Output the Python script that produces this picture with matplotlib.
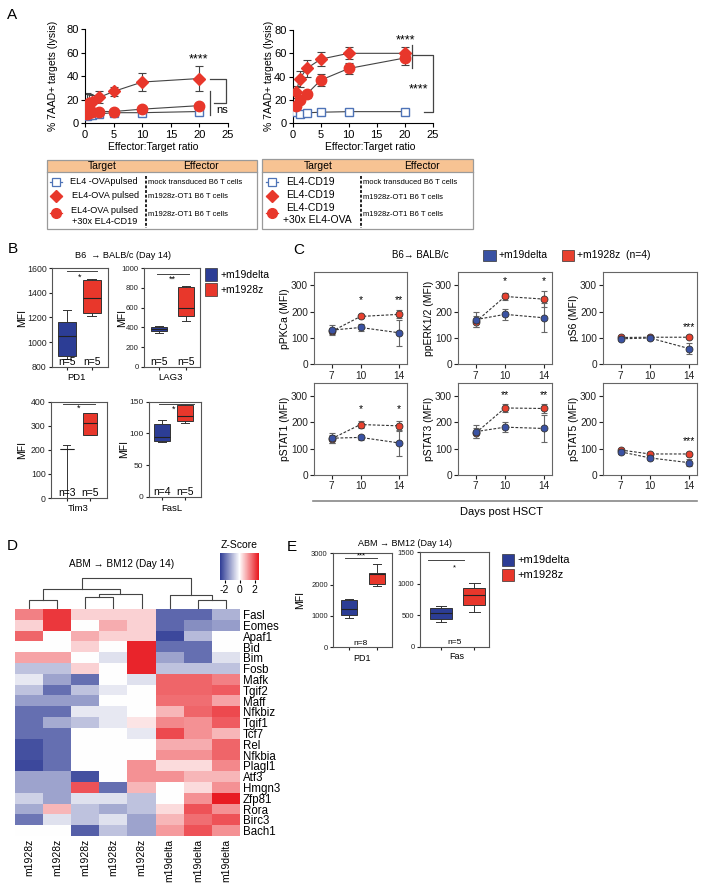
import numpy as np
import matplotlib
matplotlib.use('Agg')
import matplotlib.pyplot as plt
from matplotlib.patches import Rectangle
from matplotlib.colors import LinearSegmentedColormap

plt.rcParams['font.family'] = ['Liberation Sans', 'DejaVu Sans']
plt.rcParams['axes.linewidth'] = 0.8
plt.rcParams['xtick.major.width'] = 0.8
plt.rcParams['ytick.major.width'] = 0.8

W, H = 704, 888

# ---------------- DATA ----------------
# Panel A (left: OVA targets, right: CD19 targets)
a_left_x = [0.3125, 0.625, 1.25, 2.5, 5, 10, 20]
a_left_mock = [6, 7, 7, 8, 9, 9, 10]
a_left_mock_err = [2, 2, 2, 1.5, 1.5, 1.5, 1.5]
a_left_m1928z = [16, 17, 18, 22, 27, 35, 38]
a_left_m1928z_err = [10, 8, 6, 5, 4, 7.5, 11]
a_left_mixed = [8, 9, 10, 10, 10, 12, 15]
a_left_mixed_err = [2, 2, 2, 2, 1.5, 1.5, 2]

a_right_x = [0.625, 1.25, 2.5, 5, 10, 20]
a_right_mock = [10, 8, 9, 9.5, 10, 10]
a_right_mock_err = [1, 1, 1, 1, 1, 1]
a_right_m1928z = [27, 38, 47, 55, 60, 60]
a_right_m1928z_err = [5, 7, 7, 6, 5, 5]
a_right_mixed = [15, 20, 25, 37, 47, 56]
a_right_mixed_err = [2, 2, 3, 5, 5, 6]

a_xticks = [0, 5, 10, 15, 20, 25]
a_yticks = [0, 20, 40, 60, 80]

# Panel B box stats: (whislo, q1, med, q3, whishi)
b_markers = ['PD1', 'LAG3', 'Tim3', 'FasL']
b_m19delta = [[860, 890, 1050, 1165, 1260],
              [340, 360, 380, 405, 415],
              [0, 205, 205, 205, 220],
              [87, 88, 95, 115, 121]]
b_m1928z = [[1210, 1235, 1355, 1505, 1510],
            [460, 520, 600, 805, 820],
            [262, 262, 310, 355, 355],
            [117, 120, 127, 145, 146]]
b_n = [('n=5', 'n=5'), ('n=5', 'n=5'), ('n=3', 'n=5'), ('n=4', 'n=5')]
b_sig = ['*', '**', '*', '*']
b_ylims = [(800, 1600), (0, 1000), (0, 400), (0, 150)]
b_yticks = [[800, 1000, 1200, 1400, 1600], [0, 200, 400, 600, 800, 1000],
            [0, 100, 200, 300, 400], [0, 50, 100, 150]]

# Panel C
days = [7, 10, 14]
c_names = ['pPKCa (MFI)', 'ppERK1/2 (MFI)', 'pS6 (MFI)',
           'pSTAT1 (MFI)', 'pSTAT3 (MFI)', 'pSTAT5 (MFI)']
c_m1928z = [[125, 182, 190], [162, 258, 248], [102, 103, 103],
            [138, 192, 187], [160, 255, 253], [95, 80, 80]]
c_m1928z_sd = [[10, 5, 15], [20, 15, 30], [6, 6, 4],
               [15, 12, 20], [18, 15, 18], [5, 5, 5]]
c_m19delta = [[130, 140, 120], [170, 190, 177], [97, 100, 60],
              [140, 143, 122], [165, 182, 177], [88, 65, 47]]
c_m19delta_sd = [[20, 12, 50], [30, 20, 55], [6, 6, 20],
                 [20, 10, 50], [25, 20, 50], [8, 5, 12]]
c_stars = [[(10, 245, '*'), (14, 245, '**')],
           [(10, 318, '*'), (14, 318, '*')],
           [(14, 140, '***')],
           [(10, 250, '*'), (14, 250, '*')],
           [(10, 305, '**'), (14, 305, '**')],
           [(14, 130, '***')]]

# Panel D heatmap
genes = ['Fasl', 'Eomes', 'Apaf1', 'Bid', 'Bim', 'Fosb', 'Mafk', 'Tgif2', 'Maff',
         'Nfkbiz', 'Tgif1', 'Tcf7', 'Rel', 'Nfkbia', 'Plagl1', 'Atf3', 'Hmgn3',
         'Zfp81', 'Rora', 'Birc3', 'Bach1']
samples = ['m1928z'] * 5 + ['m19delta'] * 3
zscores = np.array([
    [1.4, 2.2, 0.5, 0.5, 0.5, -2.0, -2.0, -1.0],
    [0.5, 2.2, 0.0, 0.9, 0.5, -2.0, -1.5, -1.3],
    [1.7, 0.0, 0.9, 0.5, 0.5, -2.4, -0.9, 0.0],
    [0.0, 0.0, 0.5, 0.0, 2.4, -1.9, -1.9, 0.0],
    [1.0, 1.0, 0.0, -0.4, 2.4, -1.2, -1.9, -0.4],
    [-0.8, -0.8, 0.5, 0.0, 2.4, -0.8, -0.8, -0.8],
    [-0.3, -1.2, -1.9, 0.0, -0.4, 1.7, 1.7, 1.4],
    [-0.8, -1.9, -0.8, -0.3, 0.0, 1.7, 1.7, 1.8],
    [-1.3, -1.3, -1.3, 0.0, 0.0, 1.6, 1.6, 1.0],
    [-1.9, -1.9, -0.3, -0.3, 0.0, 0.8, 1.7, 2.0],
    [-1.9, -1.1, -0.8, -0.3, 0.3, 1.3, 1.2, 1.8],
    [-1.9, -1.9, 0.0, 0.0, -0.3, 2.0, 1.2, 0.8],
    [-2.3, -1.9, 0.0, 0.0, 0.0, 0.9, 0.9, 1.7],
    [-2.3, -1.9, 0.0, 0.0, 0.0, 1.2, 1.2, 1.7],
    [-2.4, -1.9, 0.0, 0.0, 1.2, 0.4, 0.4, 1.3],
    [-1.2, -1.2, -2.3, 0.0, 1.2, 1.2, 0.8, 0.8],
    [-1.2, -1.2, 1.9, -1.9, 0.8, 0.0, 0.4, 1.2],
    [-0.6, -1.2, -0.4, -0.4, -0.8, 0.0, 1.2, 2.5],
    [-1.1, 0.8, -0.8, -1.1, -0.8, 0.4, 1.9, 1.2],
    [-1.8, -0.4, -0.8, -0.4, -1.2, 0.8, 1.6, 1.9],
    [0.0, 0.0, -2.1, -0.8, -1.2, 1.1, 1.9, 1.2],
])
# dendrogram merges: (child_a, child_b, height); leaves 0..7, new nodes 8..
dendro_merges = [(0, 1, 9), (2, 3, 12), (9, 4, 15), (8, 10, 20),
                 (6, 7, 9), (5, 12, 14), (11, 13, 31)]

# Panel E box stats
e_markers = ['PD1', 'Fas']
e_m19delta = [[950, 1030, 1210, 1500, 1530], [393, 440, 535, 615, 647]]
e_m1928z = [[1950, 2020, 2330, 2360, 2660], [547, 663, 822, 928, 1008]]
e_n = ['n=8', 'n=5']
e_sig = ['***', '*']
e_ylims = [(0, 3000), (0, 1500)]
e_yticks = [[0, 1000, 2000, 3000], [0, 500, 1000, 1500]]

BLUE = '#2C3D95'
RED = '#E8372B'
CBLUE = '#3A52A3'
CRED = '#E8412F'

# ---------------- FIGURE ----------------
fig = plt.figure(figsize=(W / 100, H / 100), dpi=100)


def add_ax(x0, y0, x1, y1, **kw):
    return fig.add_axes([x0 / W, 1 - y1 / H, (x1 - x0) / W, (y1 - y0) / H], **kw)


ov = fig.add_axes([0, 0, 1, 1], zorder=20)
ov.set_xlim(0, W)
ov.set_ylim(H, 0)
ov.axis('off')
ov.patch.set_alpha(0)


def T(x, y, s, **kw):
    kw.setdefault('ha', 'center')
    kw.setdefault('va', 'center')
    ov.text(x, y, s, **kw)


# ---------- Panel A ----------
def panel_a(box, x, mock, mock_e, dia, dia_e, cir, cir_e):
    ax = add_ax(*box)
    for y, e in [(mock, mock_e), (cir, cir_e), (dia, dia_e)]:
        ax.plot(x, y, '-', color='#444', lw=0.8, zorder=2)
        ax.errorbar(x, y, yerr=e, fmt='none', ecolor='#444', elinewidth=0.8,
                    capsize=3, capthick=0.8, zorder=2)
    ax.plot(x, mock, 's', ms=6, mfc='white', mec='#4E73B7', mew=1.0, zorder=3)
    ax.plot(x, cir, 'o', ms=7.5, mfc=RED, mec=RED, zorder=4)
    ax.plot(x, dia, 'D', ms=6.5, mfc=RED, mec=RED, zorder=5)
    ax.set_xlim(0, 25)
    ax.set_ylim(0, 80)
    ax.set_xticks(a_xticks)
    ax.set_yticks(a_yticks)
    ax.spines['top'].set_visible(False)
    ax.spines['right'].set_visible(False)
    ax.tick_params(labelsize=8, length=3, pad=1.5)
    return ax


axAL = panel_a((85, 29, 228, 123.3), a_left_x, a_left_mock, a_left_mock_err,
               a_left_m1928z, a_left_m1928z_err, a_left_mixed, a_left_mixed_err)
axAR = panel_a((292.7, 30, 432.7, 123.3), a_right_x, a_right_mock, a_right_mock_err,
               a_right_m1928z, a_right_m1928z_err, a_right_mixed, a_right_mixed_err)

# brackets & significance A left
lk = dict(color='#444', lw=0.9, clip_on=False)
axAL.plot([21.8, 24.6, 24.6, 22.5], [38, 38, 17, 17], **lk)
axAL.plot([21.8, 21.8], [7, 27.8], **lk)
axAL.text(19.8, 54, '****', ha='center', va='center', fontsize=9)
axAL.text(23.9, 11.3, 'ns', ha='center', va='center', fontsize=8)
# A right
axAR.plot([21.25, 21.25], [47.3, 67.3], **lk)
axAR.plot([21.25, 25, 25, 23.45], [58.7, 58.7, 10, 10], **lk)
axAR.text(20.2, 70.8, '****', ha='center', va='center', fontsize=9)
axAR.text(22.4, 29, '****', ha='center', va='center', fontsize=9)

T(12.5, 15, 'A', fontsize=11)
T(53, 76, '% 7AAD+ targets (lysis)', rotation=90, fontsize=7.5)
T(268.5, 76, '% 7AAD+ targets (lysis)', rotation=90, fontsize=7.5)
T(152.7, 146.7, 'Effector:Target ratio', fontsize=7.5)
T(370, 146.7, 'Effector:Target ratio', fontsize=7.5)


# tables
def table(x0, x1, y0, y1, hdr_y1, tx, ex, dash_x, mk_x, rows, tsize):
    ov.add_patch(Rectangle((x0, y0), x1 - x0, hdr_y1 - y0, fc='#F7C393', ec='none'))
    ov.add_patch(Rectangle((x0, y0), x1 - x0, y1 - y0, fc='none', ec='#9A9A9A', lw=0.9))
    ov.plot([x0, x1], [hdr_y1, hdr_y1], color='#9A9A9A', lw=0.9)
    T(tx, (y0 + hdr_y1) / 2 + 0.5, 'Target', fontsize=7.5)
    T(ex, (y0 + hdr_y1) / 2 + 0.5, 'Effector', fontsize=7.5)
    ov.plot([dash_x, dash_x], [hdr_y1 + 4, y1 - 1], color='#111', lw=1.3,
            ls=(0, (1.6, 1.0)))
    for mk, my, lines, eff, ey in rows:
        ov.plot([mk_x - 6, mk_x + 6], [my, my], color=RED if mk != 's' else '#4E73B7', lw=0.9)
        if mk == 's':
            ov.plot([mk_x], [my], 's', ms=6, mfc='white', mec='#4E73B7', mew=0.9)
        elif mk == 'D':
            ov.plot([mk_x], [my], 'D', ms=6, mfc=RED, mec=RED)
        else:
            ov.plot([mk_x], [my], 'o', ms=7, mfc=RED, mec=RED)
        for (lx, ly, ltxt, ha) in lines:
            T(lx, ly, ltxt, fontsize=tsize, ha=ha)
        T(dash_x + 2, ey, eff, fontsize=5.5, ha='left')


table(46.7, 256.7, 160, 229, 171.7, 102.7, 200.7, 146, 56,
      [('s', 182, [(70, 182, 'EL4 -OVApulsed', 'left')], 'mock transduced B6 T cells', 182),
       ('D', 195.7, [(71.5, 195.7, 'EL4-OVA pulsed', 'left')], 'm1928z-OT1 B6 T cells', 196.3),
       ('o', 213, [(105, 210, 'EL4-OVA pulsed', 'center'),
                   (104.5, 221.3, '+30x EL4-CD19', 'center')], 'm1928z-OT1 B6 T cells', 214.3)],
      6.6)
table(262, 472.7, 159.3, 229, 171.7, 318, 421.7, 361, 271.7,
      [('s', 182, [(286, 181.7, 'EL4-CD19', 'left')], 'mock transduced B6 T cells', 182.7),
       ('D', 195.7, [(286, 195, 'EL4-CD19', 'left')], 'm1928z-OT1 B6 T cells', 197.3),
       ('o', 213, [(286, 208.3, 'EL4-CD19', 'left'),
                   (283, 220.3, '+30x EL4-OVA', 'left')], 'm1928z-OT1 B6 T cells', 214.3)],
      7.5)


# ---------- Panel B ----------
def mkstat(s):
    return dict(whislo=s[0], q1=s[1], med=s[2], q3=s[3], whishi=s[4])


def boxes(ax, sb, sr, width, xlim, ylim, yticks):
    bp = ax.bxp([mkstat(sb), mkstat(sr)], positions=[1, 2], widths=width,
                patch_artist=True, showfliers=False,
                boxprops=dict(lw=0.7, ec='#333'),
                medianprops=dict(color='#222', lw=0.8),
                whiskerprops=dict(color='#333', lw=0.7),
                capprops=dict(color='#333', lw=0.7))
    bp['boxes'][0].set_facecolor(BLUE)
    bp['boxes'][1].set_facecolor(RED)
    ax.set_xlim(*xlim)
    ax.set_ylim(*ylim)
    ax.set_yticks(yticks)
    ax.set_xticks([1, 2])
    ax.set_xticklabels([])
    for sp in ax.spines.values():
        sp.set_color('#555')
    return ax


b_boxes = [(51.7, 268.3, 108.3, 366.7), (144, 268.3, 200, 366.7),
           (50.7, 401.7, 106.7, 498), (148.5, 401.7, 200.7, 496.7)]
b_xlims = [(0.38, 2.67), (0.43, 2.52), (0.31, 2.72), (0.41, 2.67)]
b_widths = [0.72, 0.6, 0.62, 0.68]
b_tick_fs = [6.3, 5.6, 6.3, 6.0]
b_sig_pos = [((0.99, 2.2), 1575, 1.49, 1527), ((0.92, 2.12), 939, 1.5, 888),
             ((0.85, 2.2), 389, 1.52, 372), ((0.85, 2.4), 147, 1.5, 138)]
b_ylab_x = [21.7, 122.5, 21.7, 124]
b_xlab = [(76.7, 377), (170, 377), (78, 508), (172, 508)]
for i in range(4):
    ax = add_ax(*b_boxes[i])
    boxes(ax, b_m19delta[i], b_m1928z[i], b_widths[i], b_xlims[i], b_ylims[i], b_yticks[i])
    ax.tick_params(labelsize=b_tick_fs[i], length=2.5, pad=1.2, colors='#222')
    (sx0, sx1), sy, stx, sty = b_sig_pos[i]
    ax.plot([sx0, sx1], [sy, sy], color='#444', lw=0.7)
    ax.text(stx, sty, b_sig[i], ha='center', va='center', fontsize=6.5)
    lo, hi = b_ylims[i]
    for k, lab in enumerate(b_n[i]):
        ax.text(k + 1, lo + 0.05 * (hi - lo), lab, ha='center', va='center', fontsize=7.5)
    bx = b_boxes[i]
    T(b_ylab_x[i], (bx[1] + bx[3]) / 2, 'MFI', rotation=90, fontsize=7.5)
    T(b_xlab[i][0], b_xlab[i][1], b_markers[i], fontsize=6.8)

T(12.5, 249, 'B', fontsize=11)
T(123, 255, 'B6  \u2192 BALB/c (Day 14)', fontsize=6.6)
ov.add_patch(Rectangle((205, 268), 12, 13, fc=BLUE, ec='#333', lw=0.5))
ov.add_patch(Rectangle((205, 283), 12, 13, fc=RED, ec='#333', lw=0.5))
T(220.5, 274.5, '+m19delta', fontsize=7.5, ha='left')
T(220.5, 289.5, '+m1928z', fontsize=7.5, ha='left')

# ---------- Panel C ----------
c_cols = [(314.3, 406.7), (458.3, 551.7), (603.3, 696.7)]
c_rows = [(272.3, 364.3), (383, 475)]
for i in range(6):
    (x0, x1) = c_cols[i % 3]
    (y0, y1) = c_rows[i // 3]
    ax = add_ax(x0, y0, x1, y1)
    for vals, sd, col, z in [(c_m1928z[i], c_m1928z_sd[i], CRED, 3),
                             (c_m19delta[i], c_m19delta_sd[i], CBLUE, 4)]:
        ax.errorbar(days, vals, yerr=sd, fmt='none', ecolor='#666', elinewidth=0.8,
                    capsize=2.5, capthick=0.8, zorder=z)
        ax.plot(days, vals, ls=(0, (2.5, 1.5)), color='#333', lw=0.8, zorder=z)
        ax.plot(days, vals, 'o', ms=5, mfc=col, mec='#333', mew=0.6, zorder=z + 0.5)
    for (d, yv, s) in c_stars[i]:
        ax.text(d, yv, s, ha='center', va='center', fontsize=7.5)
    ax.set_xlim(5.2, 14.8)
    ax.set_ylim(0, 350)
    ax.set_xticks(days)
    ax.set_yticks([0, 100, 200, 300])
    ax.tick_params(labelsize=7.3, length=3, pad=1.5, colors='#222')
    for sp in ax.spines.values():
        sp.set_color('#666')
    ax.set_ylabel(c_names[i], fontsize=7.5, labelpad=1)

T(299, 250, 'C', fontsize=11)
T(420, 255, 'B6\u2192 BALB/c', fontsize=7)
ov.add_patch(Rectangle((483.3, 249.5), 12.5, 11.5, fc=CBLUE, ec='#333', lw=0.5))
T(498.5, 255.3, '+m19delta', fontsize=7.5, ha='left')
ov.add_patch(Rectangle((561.7, 249.5), 12.5, 11.5, fc=CRED, ec='#333', lw=0.5))
T(577, 255.3, '+m1928z  (n=4)', fontsize=7.5, ha='left')
ov.plot([313, 697], [500.7, 500.7], color='#888', lw=1.2)
T(501.7, 512, 'Days post HSCT', fontsize=8)

# ---------- Panel D ----------
cmap = LinearSegmentedColormap.from_list('bwr_custom', ['#2E3B95', '#FFFFFF', '#E8141B'])
axH = add_ax(15, 609.3, 240, 836)
im = axH.imshow(zscores, cmap=cmap, vmin=-2.6, vmax=2.6, aspect='auto',
                interpolation='nearest')
axH.set_yticks(range(len(genes)))
axH.set_yticklabels(genes, fontsize=8.3)
axH.yaxis.tick_right()
axH.set_xticks(range(len(samples)))
axH.set_xticklabels(samples, rotation=90, fontsize=7.5)
axH.tick_params(length=0, pad=2)
for sp in axH.spines.values():
    sp.set_visible(False)

# dendrogram
axD = add_ax(15, 575, 240, 609.3)
pos = {i: i for i in range(len(samples))}
hgt = {i: 0 for i in range(len(samples))}
node = len(samples)
for a, b, h in dendro_merges:
    xa, xb = pos[a], pos[b]
    axD.plot([xa, xa, xb, xb], [hgt[a], h, h, hgt[b]], color='#444', lw=0.8)
    pos[node] = (xa + xb) / 2
    hgt[node] = h
    node += 1
axD.set_xlim(-0.5, len(samples) - 0.5)
axD.set_ylim(0, 34.3)
axD.axis('off')

cax = add_ax(220, 553, 259, 580)
cb = fig.colorbar(im, cax=cax, orientation='horizontal', ticks=[-2, 0, 2])
cb.outline.set_visible(False)
cax.tick_params(labelsize=7.5, length=2.5, pad=1)
cax.set_xticklabels(['-2', '0', '2'])
T(239, 545, 'Z-Score', fontsize=7.5)
T(12.5, 546, 'D', fontsize=11)
T(121.7, 564, 'ABM \u2192 BM12 (Day 14)', fontsize=7.2)

# ---------- Panel E ----------
e_boxes = [(333.3, 553.3, 392.3, 647.3), (420, 552.3, 489, 646.7)]
e_xlims = [(0.43, 2.54), (0.36, 2.45)]
e_widths = [0.58, 0.65]
e_sig_pos = [((0.85, 2.0), 2840, 1.45, 2930), ((0.6, 1.7), 1378, 1.4, 1260)]
e_xlab = [(361.7, 658.3), (456.7, 656.7)]
for i in range(2):
    ax = add_ax(*e_boxes[i])
    boxes(ax, e_m19delta[i], e_m1928z[i], e_widths[i], e_xlims[i], e_ylims[i], e_yticks[i])
    ax.tick_params(labelsize=5.5, length=2.5, pad=1.5, colors='#222')
    (sx0, sx1), sy, stx, sty = e_sig_pos[i]
    ax.plot([sx0, sx1], [sy, sy], color='#444', lw=0.7)
    ax.text(stx, sty, e_sig[i], ha='center', va='center', fontsize=5.5)
    lo, hi = e_ylims[i]
    ax.text(1.4, lo + 0.04 * (hi - lo), e_n[i], ha='center', va='center', fontsize=6)
    T(e_xlab[i][0], e_xlab[i][1], e_markers[i], fontsize=6.5)
T(300, 600, 'MFI', rotation=90, fontsize=7.5)
T(291.7, 547, 'E', fontsize=11)
T(405, 543, 'ABM \u2192 BM12 (Day 14)', fontsize=6.5)
ov.add_patch(Rectangle((501.7, 554), 12.3, 12, fc=BLUE, ec='#333', lw=0.5))
ov.add_patch(Rectangle((501.7, 569.3), 12.3, 11.5, fc=RED, ec='#333', lw=0.5))
T(517, 560, '+m19delta', fontsize=8, ha='left')
T(517, 575, '+m1928z', fontsize=8, ha='left')

fig.savefig('out.png', dpi=100)
